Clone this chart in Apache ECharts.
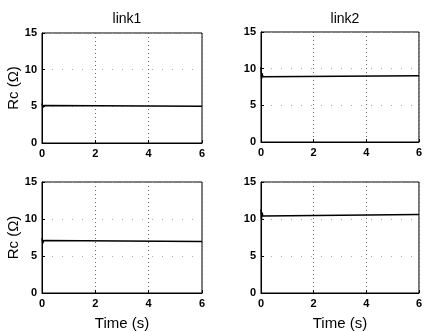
<!DOCTYPE html>
<html>
<head>
<meta charset="utf-8">
<script src="https://cdn.jsdelivr.net/npm/echarts@6/dist/echarts.min.js"></script>
<style>
  html, body { margin: 0; padding: 0; background: #fff; }
  #chart { width: 425px; height: 332px; }
</style>
</head>
<body>
<div id="chart"></div>
<script>
// data
const titles = ['link1', 'link2']

const timeA = [0, 0.03, 0.06, 0.1, 6]
const rcLink1Top = [5.4, 4.8, 5.1, 5.0, 5.0]
const rcLink1Bot = [7.4, 6.7, 7.1, 6.95, 6.95]

const timeB = [0, 0.02, 0.04, 0.07, 0.1, 6]
const rcLink2Top = [10.2, 8.6, 9.4, 8.9, 9.05, 9.05]
const rcLink2Bot = [11.3, 10.0, 10.9, 10.4, 10.6, 10.6]

const font = 'Liberation Sans, Arial, sans-serif'

function pairs(xs, ys) {
  return xs.map((x, i) => [x, ys[i]])
}

const grids = [
  { left: 42, top: 33, width: 160, height: 110 },
  { left: 261, top: 32, width: 158, height: 110 },
  { left: 42, top: 182, width: 160, height: 111 },
  { left: 261, top: 182, width: 158, height: 111 }
].map(g => Object.assign(g, { show: true, borderColor: '#000', borderWidth: 1, backgroundColor: '#fff' }))

const xAxes = grids.map((g, i) => ({
  gridIndex: i,
  type: 'value',
  min: 0,
  max: 6,
  interval: 2,
  name: i >= 2 ? 'Time (s)' : '',
  nameLocation: 'middle',
  nameGap: 23,
  nameTextStyle: { fontFamily: font, fontSize: 15, color: '#000' },
  axisLine: { show: true, lineStyle: { color: '#000', width: 1 } },
  axisTick: { show: true, inside: true, length: 3, lineStyle: { color: '#000' } },
  axisLabel: { fontFamily: font, fontSize: 11, fontWeight: 'bold', color: '#000', margin: 5 },
  splitLine: { show: true, lineStyle: { color: '#666', type: [1, 3], width: 1 } }
}))

const yAxes = grids.map((g, i) => ({
  gridIndex: i,
  type: 'value',
  min: 0,
  max: 15,
  interval: 5,
  name: i % 2 === 0 ? 'Rc (Ω)' : '',
  nameLocation: 'middle',
  nameGap: 18,
  nameRotate: 90,
  nameTextStyle: { fontFamily: font, fontSize: 15, color: '#000' },
  axisLine: { show: true, lineStyle: { color: '#000', width: 1 } },
  axisTick: { show: true, inside: true, length: 3, lineStyle: { color: '#000' } },
  axisLabel: { fontFamily: font, fontSize: 11, fontWeight: 'bold', color: '#000', margin: 5 },
  splitLine: { show: true, lineStyle: { color: '#aaa', type: [1, 9], width: 1 } }
}))

const seriesData = [
  pairs(timeA, rcLink1Top),
  pairs(timeB, rcLink2Top),
  pairs(timeA, rcLink1Bot),
  pairs(timeB, rcLink2Bot)
]

const chart = echarts.init(document.getElementById('chart'))
chart.setOption({
  backgroundColor: '#fff',
  animation: false,
  title: [
    { text: titles[0], left: 122, top: 7, textAlign: 'center',
      textStyle: { fontFamily: font, fontSize: 14, fontWeight: 'normal', color: '#000' } },
    { text: titles[1], left: 340, top: 7, textAlign: 'center',
      textStyle: { fontFamily: font, fontSize: 14, fontWeight: 'normal', color: '#000' } }
  ],
  grid: grids,
  xAxis: xAxes,
  yAxis: yAxes,
  series: seriesData.map((d, i) => ({
    type: 'line',
    xAxisIndex: i,
    yAxisIndex: i,
    data: d,
    showSymbol: false,
    lineStyle: { color: '#000', width: 1.5 }
  }))
})
</script>
</body>
</html>
